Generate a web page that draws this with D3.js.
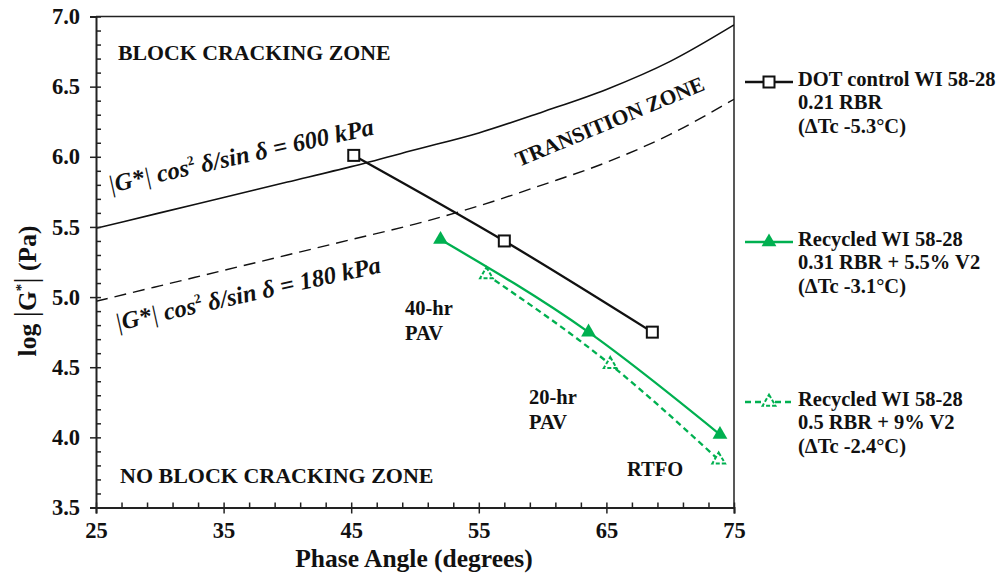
<!DOCTYPE html>
<html>
<head>
<meta charset="utf-8">
<script src="https://cdn.jsdelivr.net/npm/d3@7"></script>
<style>
  body { margin: 0; background: #fff; }
  text { font-family: "Liberation Serif", "Times New Roman", serif; font-weight: bold; fill: #111; }
</style>
</head>
<body>
<script>
// chart data
const xTicks = [25, 35, 45, 55, 65, 75];
const yTicks = [3.5, 4.0, 4.5, 5.0, 5.5, 6.0, 6.5, 7.0];

// criteria curves (phase angle -> log|G*|)
const critAngles = [25, 30, 35, 40, 45, 50, 55, 60, 65, 70, 75];
const crit600 = [5.49, 5.60, 5.71, 5.82, 5.93, 6.05, 6.17, 6.32, 6.48, 6.68, 6.94];
const crit180 = [4.97, 5.08, 5.19, 5.30, 5.41, 5.52, 5.65, 5.80, 5.96, 6.16, 6.41];

// series
const dotAngle = [45.2, 57.0, 68.6];
const dotLogG = [6.01, 5.40, 4.75];
const recAAngle = [52.0, 63.6, 73.9];
const recALogG = [5.41, 4.75, 4.02];
const recBAngle = [55.6, 65.3, 73.8];
const recBLogG = [5.16, 4.52, 3.84];

const green = "#00b050";

const width = 1001, height = 575;
const margin = {top: 16.5, right: 267, bottom: 67.5, left: 96};

const svg = d3.select("body").append("svg")
    .attr("width", width)
    .attr("height", height);

var x = d3.scaleLinear().domain([25, 75]).range([margin.left, width - margin.right]);
var y = d3.scaleLinear().domain([3.5, 7]).range([height - margin.bottom, margin.top]);

var minorX = d3.range(25, 75.01, 2);
var minorY = d3.range(35, 70.01, 1).map(function(d) { return d / 10; });

// frame (top + right)
svg.append("path")
    .attr("d", "M" + x(25) + "," + y(7) + "H" + x(75) + "V" + y(3.5))
    .attr("fill", "none").attr("stroke", "#222").attr("stroke-width", 1.5);

// clip for curves
svg.append("clipPath").attr("id", "plot")
  .append("rect").attr("x", x(25)).attr("y", y(7))
    .attr("width", x(75) - x(25)).attr("height", y(3.5) - y(7));

var plot = svg.append("g").attr("clip-path", "url(#plot)");

var critLine = d3.line()
    .x(function(d, i) { return x(critAngles[i]); })
    .y(function(d) { return y(d); })
    .curve(d3.curveMonotoneX);

plot.append("path").datum(crit600)
    .attr("d", critLine)
    .attr("fill", "none").attr("stroke", "#111").attr("stroke-width", 1.6);

plot.append("path").datum(crit180)
    .attr("d", critLine)
    .attr("fill", "none").attr("stroke", "#111").attr("stroke-width", 1.4)
    .attr("stroke-dasharray", "12,7");

// axes
svg.append("g")
    .attr("transform", "translate(" + x(25) + ",0)")
    .call(d3.axisLeft(y).tickValues(yTicks).tickFormat(d3.format(".1f")).tickSize(6).tickPadding(10));
svg.append("g")
    .attr("transform", "translate(" + x(25) + ",0)")
    .call(d3.axisRight(y).tickValues(minorY).tickFormat("").tickSize(5))
    .select(".domain").remove();

svg.append("g")
    .attr("transform", "translate(0," + y(3.5) + ")")
    .call(d3.axisBottom(x).tickValues(xTicks).tickFormat(d3.format("d")).tickSize(6).tickPadding(9));
svg.append("g")
    .attr("transform", "translate(0," + y(3.5) + ")")
    .call(d3.axisTop(x).tickValues(minorX).tickFormat("").tickSize(5))
    .select(".domain").remove();

svg.selectAll(".domain").attr("stroke", "#222").attr("stroke-width", 2);
svg.selectAll(".tick line").attr("stroke", "#222").attr("stroke-width", 1.5);
svg.selectAll(".tick text")
    .style("font-family", "Liberation Serif, serif")
    .style("font-weight", "bold")
    .style("font-size", "22.5px")
    .attr("fill", "#111");

// axis titles
svg.append("text")
    .attr("x", 414).attr("y", 567)
    .attr("text-anchor", "middle")
    .style("font-size", "25.5px")
    .text("Phase Angle (degrees)");

var yt = svg.append("text")
    .attr("transform", "translate(36,291) rotate(-90)")
    .attr("text-anchor", "middle")
    .style("font-size", "25.5px");
yt.append("tspan").text("log ");
yt.append("tspan").style("font-size", "32px").style("font-weight", "normal").text("|");
yt.append("tspan").text("G");
yt.append("tspan").attr("dy", -10).style("font-size", "15px").text("*");
yt.append("tspan").attr("dy", 10).style("font-size", "32px").style("font-weight", "normal").text("|");
yt.append("tspan").text(" (Pa)");

// zone labels
svg.append("text").attr("x", 118).attr("y", 60)
    .style("font-size", "21.8px").text("BLOCK CRACKING ZONE");
svg.append("text").attr("x", 120).attr("y", 483)
    .style("font-size", "22px").text("NO BLOCK CRACKING ZONE");
svg.append("text")
    .attr("transform", "translate(519,167) rotate(-22.5)")
    .style("font-size", "21.5px").text("TRANSITION ZONE");

function critLabel(tx, ty, value) {
    var t = svg.append("text")
        .attr("transform", "translate(" + tx + "," + ty + ") rotate(-12.5)")
        .style("font-size", "24.5px")
        .style("font-style", "italic");
    t.append("tspan").style("font-weight", "normal").text("|");
    t.append("tspan").text("G*");
    t.append("tspan").style("font-weight", "normal").text("| ");
    t.append("tspan").text("cos");
    t.append("tspan").attr("dy", -10).style("font-size", "13px").style("font-style", "normal").text("2");
    t.append("tspan").attr("dy", 10).text(" δ/sin δ = " + value + " kPa");
}
critLabel(110, 193, 600);
critLabel(117, 331, 180);

// aging labels
function ageLabel(tx, ty, lines) {
    var t = svg.append("text").style("font-size", "20.5px");
    lines.forEach(function(l, i) {
        t.append("tspan").attr("x", tx).attr("y", ty + i * 25).text(l);
    });
}
ageLabel(405, 315, ["40-hr", "PAV"]);
ageLabel(529, 404, ["20-hr", "PAV"]);
ageLabel(627, 476, ["RTFO"]);

// series
var triangle = d3.symbol().type(d3.symbolTriangle).size(95);

function drawSeries(ax, vals, color, dash, marker) {
    var line = d3.line()
        .x(function(d, i) { return x(ax[i]); })
        .y(function(d) { return y(d); })
        .curve(d3.curveMonotoneX);
    svg.append("path").datum(vals)
        .attr("d", line)
        .attr("fill", "none").attr("stroke", color).attr("stroke-width", 2.3)
        .attr("stroke-dasharray", dash);
    var pts = svg.selectAll(null).data(vals).enter();
    marker(pts, function(d, i) { return x(ax[i]); }, function(d) { return y(d); });
}

function squareMarker(sel, fx, fy) {
    sel.append("rect")
        .attr("x", function(d, i) { return fx(d, i) - 5.5; })
        .attr("y", function(d, i) { return fy(d, i) - 5.5; })
        .attr("width", 11).attr("height", 11)
        .attr("fill", "#fff").attr("stroke", "#111").attr("stroke-width", 2);
}
function fillTriMarker(sel, fx, fy) {
    sel.append("path")
        .attr("d", triangle)
        .attr("transform", function(d, i) { return "translate(" + fx(d, i) + "," + fy(d, i) + ")"; })
        .attr("fill", green);
}
function openTriMarker(sel, fx, fy) {
    sel.append("path")
        .attr("d", d3.symbol().type(d3.symbolTriangle).size(70))
        .attr("transform", function(d, i) { return "translate(" + fx(d, i) + "," + fy(d, i) + ")"; })
        .attr("fill", "#fff").attr("stroke", green).attr("stroke-width", 2)
        .attr("stroke-dasharray", "4,2");
}

drawSeries(dotAngle, dotLogG, "#111", null, squareMarker);
drawSeries(recAAngle, recALogG, green, null, fillTriMarker);
drawSeries(recBAngle, recBLogG, green, "6,4", openTriMarker);

// legend
var legendItems = [
    {lines: ["DOT control WI 58-28", "0.21 RBR", "(ΔTc -5.3°C)"], color: "#111", dash: null, marker: squareMarker, y: 82},
    {lines: ["Recycled WI 58-28", "0.31 RBR + 5.5% V2", "(ΔTc -3.1°C)"], color: green, dash: null, marker: fillTriMarker, y: 242},
    {lines: ["Recycled WI 58-28", "0.5 RBR + 9% V2", "(ΔTc -2.4°C)"], color: green, dash: "6,4", marker: openTriMarker, y: 402}
];

legendItems.forEach(function(it) {
    var g = svg.append("g");
    g.append("line")
        .attr("x1", 745).attr("x2", 793).attr("y1", it.y).attr("y2", it.y)
        .attr("stroke", it.color).attr("stroke-width", 2.3)
        .attr("stroke-dasharray", it.dash);
    it.marker(g.selectAll(null).data([0]).enter(), function() { return 769; }, function() { return it.y; });
    var t = g.append("text").style("font-size", "20.5px");
    it.lines.forEach(function(l, i) {
        t.append("tspan").attr("x", 798).attr("y", it.y + 4 + i * 23.3).text(l);
    });
});
</script>
</body>
</html>
